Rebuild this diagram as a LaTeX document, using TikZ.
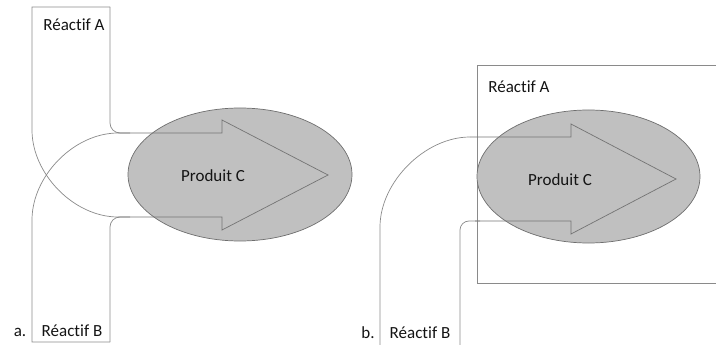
\documentclass[tikz,border=0pt]{standalone}
\usepackage{fontspec}
\setmainfont[Ligatures=NoCommon]{Carlito}
\usetikzlibrary{shapes.geometric}
\definecolor{linegray}{HTML}{8A8A8A}
\definecolor{ellgray}{HTML}{6E6E6E}
\definecolor{fillgray}{HTML}{C0C0C0}
\definecolor{textgray}{HTML}{141414}
\begin{document}
\begin{tikzpicture}[x=1pt,y=-1pt,
  wall/.style={draw=linegray, line width=0.7pt},
  arrowline/.style={draw=ellgray!80!linegray, line width=0.7pt, line join=miter},
  lbl/.style={font=\fontsize{17}{20}\selectfont, text=textgray, inner sep=0pt},
  prod/.style={draw=ellgray, fill=fillgray, line width=0.7pt, ellipse, inner sep=0pt}]
\useasboundingbox (0,0) rectangle (716,345);
% ---------- a ----------
\node[prod, minimum width=224pt, minimum height=133pt] (ellA) at (240,174.5) {};
\draw[wall] (110,7) -- (32,7) -- (32,130) .. controls (32,174) and (74,217) .. (118,217);
\draw[wall] (110,7) [rounded corners=10pt] -- (110,133) -- (130,133);
\draw[wall] (110,342) -- (32,342) -- (32,220) .. controls (32,176) and (74,133) .. (118,133);
\draw[wall] (110,342) [rounded corners=10pt] -- (110,217) -- (130,217);
\draw[arrowline] (118,133) -- (222,133) -- (222,120) -- (328,175) -- (222,230) -- (222,217) -- (118,217);
\node[lbl] (rAa) at (74,25) {Réactif A};
\node[lbl] (rBa) at (72,331) {Réactif B};
\node[lbl] (pCa) at (213,176) {Produit C};
\node[lbl] (la) at (20,332) {a.};
% ---------- b ----------
\draw[wall] (716,65) -- (477,65) -- (477,283) -- (716,283);
\node[prod, minimum width=223pt, minimum height=133pt] (ellB) at (588.5,176.5) {};
\draw[wall] (380,345) -- (380,227) .. controls (380,182) and (425,137) .. (470,137);
\draw[wall] (460,345) [rounded corners=9pt] -- (460,221) -- (480,221);
\draw[arrowline] (470,137) -- (571,137) -- (571,124) -- (676,179) -- (571,234) -- (571,221) -- (475,221);
\node[lbl] (rAb) at (519,87) {Réactif A};
\node[lbl] (rBb) at (420,333) {Réactif B};
\node[lbl] (pCb) at (560,180) {Produit C};
\node[lbl] (lb) at (368,333) {b.};
\end{tikzpicture}
\end{document}
